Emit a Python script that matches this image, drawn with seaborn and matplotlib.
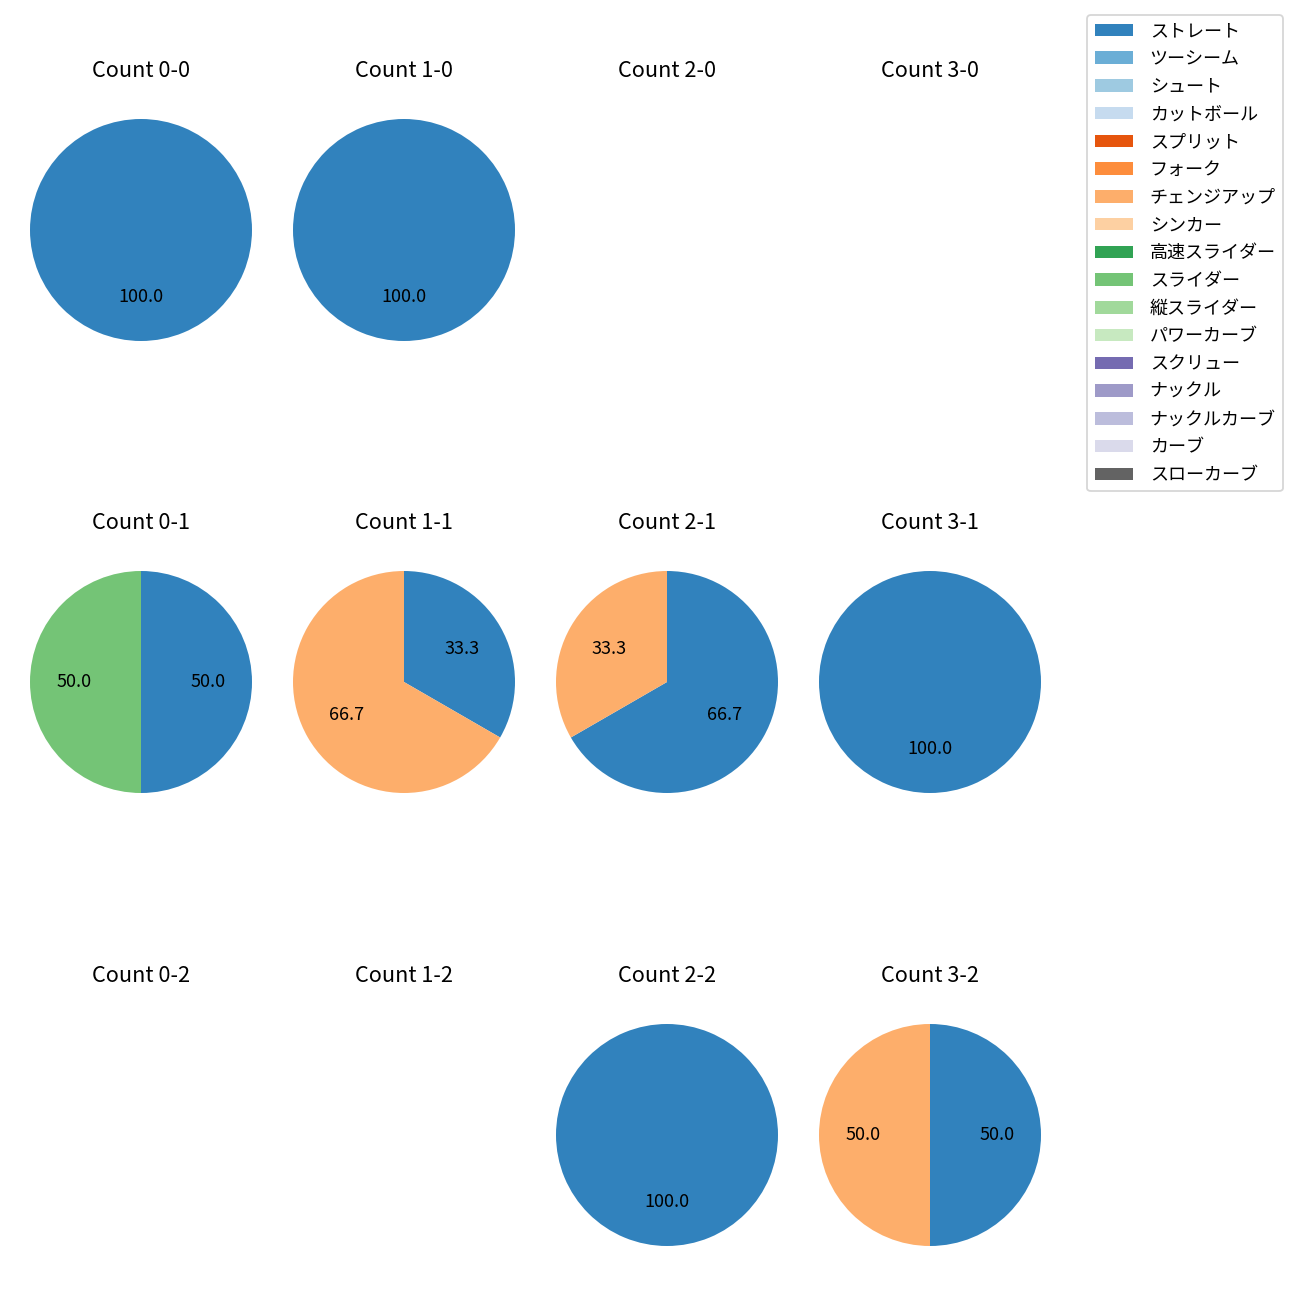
import numpy as np
import seaborn as sns
import matplotlib.pyplot as plt
from matplotlib.patches import Patch

plt.rcParams['font.family'] = ['Noto Sans CJK JP', 'DejaVu Sans']

pitch_types = ["ストレート", "ツーシーム", "シュート", "カットボール", "スプリット",
               "フォーク", "チェンジアップ", "シンカー", "高速スライダー", "スライダー",
               "縦スライダー", "パワーカーブ", "スクリュー", "ナックル", "ナックルカーブ",
               "カーブ", "スローカーブ"]
colors = sns.color_palette("tab20c", 20)[:17]

balls = [0, 1, 2, 3]
strikes = [0, 1, 2]

# pitch counts per count situation: {pitch type: count}
count_0_0 = {"ストレート": 1}
count_1_0 = {"ストレート": 1}
count_2_0 = {}
count_3_0 = {}
count_0_1 = {"ストレート": 1, "スライダー": 1}
count_1_1 = {"ストレート": 1, "チェンジアップ": 2}
count_2_1 = {"ストレート": 2, "チェンジアップ": 1}
count_3_1 = {"ストレート": 1}
count_0_2 = {}
count_1_2 = {}
count_2_2 = {"ストレート": 1}
count_3_2 = {"ストレート": 1, "チェンジアップ": 1}

data = {
    (0, 0): count_0_0, (1, 0): count_1_0, (2, 0): count_2_0, (3, 0): count_3_0,
    (0, 1): count_0_1, (1, 1): count_1_1, (2, 1): count_2_1, (3, 1): count_3_1,
    (0, 2): count_0_2, (1, 2): count_1_2, (2, 2): count_2_2, (3, 2): count_3_2,
}

fig = plt.figure(figsize=(10, 10), dpi=130)

size = 277.5 / 1300
col_centers = [141, 404, 667, 930]
row_centers = [230, 682, 1135]

for s in strikes:
    for b in balls:
        cx = col_centers[b] / 1300
        cy = 1 - row_centers[s] / 1300
        ax = fig.add_axes([cx - size / 2, cy - size / 2, size, size])
        counts = data[(b, s)]
        if counts:
            vals = [counts[p] for p in pitch_types if p in counts]
            cols = [colors[i] for i, p in enumerate(pitch_types) if p in counts]
            ax.pie(vals, colors=cols, startangle=90, counterclock=False,
                   autopct="%.1f", wedgeprops={"linewidth": 0})
        else:
            ax.set_xlim(-1.25, 1.25)
            ax.set_ylim(-1.25, 1.25)
            ax.axis("off")
        ax.set_title(f"Count {b}-{s}", pad=7.7)

handles = [Patch(facecolor=c) for c in colors]
fig.legend(handles, pitch_types, loc="upper right",
           bbox_to_anchor=(0.9938, 0.9954), fontsize=10,
           labelspacing=0.54, handlelength=2.15, handletextpad=0.9)

fig.savefig("out.png", dpi=130)
